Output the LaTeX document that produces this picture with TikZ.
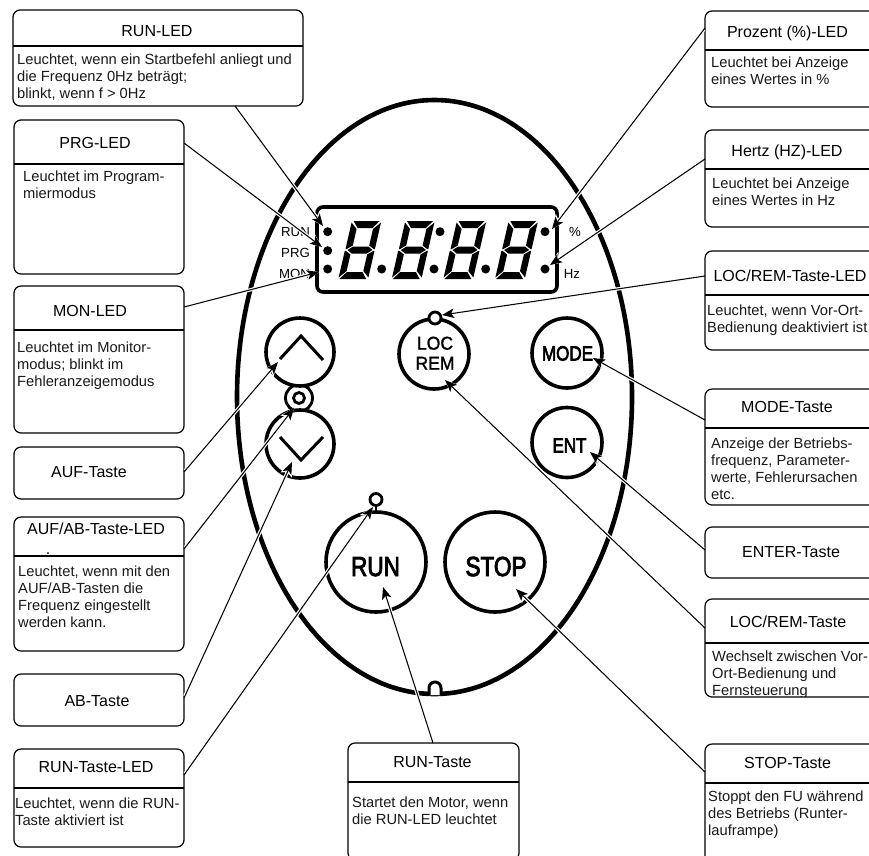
\documentclass[tikz,border=0pt]{standalone}
\usepackage{fontspec}
\setmainfont{Liberation Sans}
\newfontfamily\keyfont[FakeBold=3.5]{Liberation Sans}
\newfontfamily\locfont[FakeBold=1.5]{Liberation Sans}
\usetikzlibrary{arrows.meta}
\tikzset{
  boxs/.style={draw=black,line width=1.2pt,rounded corners=7pt,inner sep=0pt,outer sep=0pt,fill=white},
  divider/.style={draw=black,line width=1.2pt},
  titletext/.style={font=\fontsize{16}{18}\selectfont,anchor=base,inner sep=0pt},
  bodytext/.style={font=\fontsize{14.7}{17}\selectfont,anchor=north west,inner sep=0pt,align=left,text=black!90},
  key/.style={circle,draw=black,line width=3.6pt,fill=white,inner sep=0pt,outer sep=0pt},
  keytext/.style={font=\keyfont\fontsize{20.5}{22}\selectfont,anchor=base,inner sep=0pt},
  loctext/.style={font=\locfont\fontsize{18.5}{20}\selectfont,anchor=base,inner sep=0pt},
  bigkeytext/.style={font=\keyfont\fontsize{27.5}{30}\selectfont,anchor=base,inner sep=0pt},
  ledlabel/.style={font=\fontsize{13.2}{15}\selectfont,anchor=base east,inner sep=0pt},
  ledlabelw/.style={font=\fontsize{13.2}{15}\selectfont,anchor=base,inner sep=0pt},
  ring/.style={circle,draw=black,line width=2.8pt,fill=white,inner sep=0pt,outer sep=0pt},
  dot/.style={circle,fill=black,inner sep=0pt,minimum size=9pt},
  conn/.style={line width=1.05pt,-{Stealth[length=12pt,width=9.5pt,inset=2.8pt]},
    preaction={draw=white,line width=3.4pt,shorten <=2pt,-{Stealth[length=14pt,width=12pt,inset=3pt]}}},
  chev/.style={line width=3pt,draw=black}
}
% name, x1, y1, x2, y2
\newcommand{\cbox}[5]{%
  \pgfmathsetmacro{\bw}{#4-#2}\pgfmathsetmacro{\bh}{#5-#3}%
  \pgfmathsetmacro{\bcx}{(#2+#4)/2}\pgfmathsetmacro{\bcy}{(#3+#5)/2}%
  \node[boxs,minimum width=\bw pt,minimum height=\bh pt] (#1) at (\bcx,\bcy) {};}
\newcommand{\segdigit}[2]{%
  \begin{scope}[shift={(#1,#2)},xslant=0.23]
    \fill (2,-58) -- (28,-58) -- (22.5,-51) -- (7.5,-51) -- cycle;
    \fill (1,0) -- (28,0) -- (22.5,-7) -- (7,-7) -- cycle;
    \fill (2.5,-29) -- (7.5,-32.5) -- (22.5,-32.5) -- (27.5,-29) -- (22.5,-25.5) -- (7.5,-25.5) -- cycle;
    \fill (0.3,-56.5) -- (6.8,-50) -- (6.8,-33.5) -- (1.2,-29.8) -- (0.3,-30) -- cycle;
    \fill (0,-1.5) -- (6.5,-8) -- (6.5,-24.5) -- (1,-28.2) -- (0,-28) -- cycle;
    \fill (29.7,-56.5) -- (23.2,-50) -- (23.2,-33.5) -- (28.8,-29.8) -- (29.7,-30) -- cycle;
    \fill (29.7,-1.5) -- (23.2,-8) -- (23.2,-24.5) -- (28.8,-28.2) -- (29.7,-28) -- cycle;
  \end{scope}}
\begin{document}
\begin{tikzpicture}[x=1pt,y=-1pt]
\useasboundingbox (0,0) rectangle (869,855);
\clip (0,0) rectangle (869,855);
\fill[white] (0,0) rectangle (869,855);

% housing
\draw[line width=4.6pt] (434.5,397) ellipse [x radius=197.5,y radius=297];
\draw[line width=3pt,fill=white] (429,695) -- (429,688) arc[start angle=180,end angle=360,radius=6] -- (441,695);

% display
\node[draw=black,line width=3.6pt,rounded corners=6pt,minimum width=240pt,minimum height=85pt,inner sep=0pt,outer sep=0pt] (display) at (437,249.5) {};
\segdigit{338.3}{279}
\segdigit{391.7}{279}
\segdigit{443.3}{279}
\segdigit{495}{279}
\node[dot] (ledrun) at (327.7,231.7) {};
\node[dot] (ledprg) at (327.7,250.7) {};
\node[dot] (ledmon) at (327.7,269) {};
\node[dot] (ledpct) at (545,231.7) {};
\node[dot] (ledhz) at (545,269) {};
\node[dot] (dp1) at (381.7,269) {};
\node[dot] (dp2) at (434,269) {};
\node[dot] (dp3) at (485.7,269) {};
\node[dot] (colon) at (440,231.7) {};
\node[ledlabel] (lrun) at (310,236) {RUN};
\node[ledlabel] (lprg) at (310,257) {PRG};
\node[ledlabel] (lmon) at (310,278) {MON};
\node[ledlabelw] (lpct) at (575,236) {\%};
\node[ledlabelw] (lhz) at (572,278) {Hz};

% keys
\node[ring,minimum size=27pt] (updownled) at (299,398) {};
\node[key,minimum size=68pt] (up) at (300,352) {};
\node[key,minimum size=68pt] (down) at (300,444) {};
\draw[chev] (280,359) -- (301,336) -- (323,360);
\draw[chev] (280,437) -- (301,460) -- (323,437);
\node[ring,minimum size=11pt] (updowndot) at (299,398) {};

\node[key,minimum size=70pt] (loc) at (434,354) {};
\node[ring,minimum size=12pt] (locled) at (435,318) {};
\node[loctext] (loct) at (435,349.6) {\scalebox{0.95}[1]{LOC}};
\node[loctext] (remt) at (435,369.6) {\scalebox{0.95}[1]{REM}};
\node[key,minimum size=70pt] (mode) at (567,353) {};
\node[keytext] (modet) at (567.5,360.5) {\scalebox{0.83}[1]{MODE}};
\node[key,minimum size=70pt] (ent) at (567,442.5) {};
\node[keytext] (entt) at (569.5,452.5) {\scalebox{0.83}[1]{ENT}};
\node[key,minimum size=100pt] (runkey) at (376,562) {};
\node[key,minimum size=100pt] (stopkey) at (495,562) {};
\draw[line width=2.8pt] (376,505) -- (376,511);
\node[ring,minimum size=12pt] (runled2) at (376,499.5) {};
\node[bigkeytext] (runt) at (375.5,576) {\scalebox{0.82}[1]{RUN}};
\node[bigkeytext] (stopt) at (496,576) {\scalebox{0.82}[1]{STOP}};

% left boxes
\cbox{brunled}{13}{10}{303}{106}
\draw[divider] (brunled.west |- 0,46) -- (brunled.east |- 0,46);
\node[titletext] (trunled) at (157,36.7) {RUN-LED};
\node[bodytext] (drunled) at (17,54) {Leuchtet, wenn ein Startbefehl anliegt und\\die Frequenz 0Hz beträgt;\\blinkt, wenn f > 0Hz};

\cbox{bprg}{14}{120}{184}{274}
\draw[divider] (bprg.west |- 0,164) -- (bprg.east |- 0,164);
\node[titletext] (tprg) at (95,148.7) {PRG-LED};
\node[bodytext] (dprg) at (23,171) {Leuchtet im Program-\\miermodus};

\cbox{bmon}{14}{286}{184}{433}
\draw[divider] (bmon.west |- 0,330) -- (bmon.east |- 0,330);
\node[titletext] (tmon) at (90,316.7) {MON-LED};
\node[bodytext] (dmon) at (17,342) {Leuchtet im Monitor-\\modus; blinkt im\\Fehleranzeigemodus};

\cbox{bauf}{14}{447}{184}{499}
\node[titletext] (tauf) at (89,477.7) {AUF-Taste};

\cbox{bled}{14}{517}{184}{651}
\draw[divider] (bled.west |- 0,556) -- (bled.east |- 0,556);
\node[titletext] (tled) at (96,534.7) {AUF/AB-Taste-LED};
\node[titletext] (tleddot) at (48,554) {.};
\node[bodytext] (dled) at (18,566) {Leuchtet, wenn mit den\\AUF/AB-Tasten die\\Frequenz eingestellt\\werden kann.};

\cbox{bab}{14}{674}{184}{726}
\node[titletext] (tab) at (97,706.7) {AB-Taste};

\cbox{brunt}{14}{749}{184}{847}
\draw[divider] (brunt.west |- 0,788) -- (brunt.east |- 0,788);
\node[titletext] (trunt) at (96,772.7) {RUN-Taste-LED};
\node[bodytext] (drunt) at (15,798) {Leuchtet, wenn die RUN-\\Taste aktiviert ist};

% bottom centre box
\cbox{bstart}{348}{743}{519}{860}
\draw[divider] (bstart.west |- 0,782) -- (bstart.east |- 0,782);
\node[titletext] (tstart) at (432.5,767.7) {RUN-Taste};
\node[bodytext] (dstart) at (352,797) {Startet den Motor, wenn\\die RUN-LED leuchtet};

% right boxes
\cbox{bpct}{705}{11}{890}{107}
\draw[divider] (bpct.west |- 0,50) -- (bpct.east |- 0,50);
\node[titletext] (tpct) at (787.5,37.7) {Prozent (\%)-LED};
\node[bodytext] (dpct) at (711,57) {Leuchtet bei Anzeige\\eines Wertes in \%};

\cbox{bhz}{705}{130}{890}{227}
\draw[divider] (bhz.west |- 0,169) -- (bhz.east |- 0,169);
\node[titletext] (thz) at (787,156.7) {Hertz (HZ)-LED};
\node[bodytext] (dhz) at (712,178) {Leuchtet bei Anzeige\\eines Wertes in Hz};

\cbox{bll}{705}{251}{890}{350}
\draw[divider] (bll.west |- 0,295) -- (bll.east |- 0,295);
\node[titletext] (tll) at (790,281.7) {LOC/REM-Taste-LED};
\node[bodytext] (dll) at (707,305) {Leuchtet, wenn Vor-Ort-\\Bedienung deaktiviert ist};

\cbox{bmode}{705}{389}{890}{505}
\draw[divider] (bmode.west |- 0,428) -- (bmode.east |- 0,428);
\node[titletext] (tmode) at (787,412.7) {MODE-Taste};
\node[bodytext] (dmode) at (711,438) {Anzeige der Betriebs-\\frequenz, Parameter-\\werte, Fehlerursachen\\etc.};

\cbox{benter}{705}{527}{890}{578}
\node[titletext] (tenter) at (791,557.7) {ENTER-Taste};

\cbox{blr}{705}{599}{890}{697}
\draw[divider] (blr.west |- 0,643) -- (blr.east |- 0,643);
\node[titletext] (tlr) at (788,627.7) {LOC/REM-Taste};
\begin{scope}
  \clip (706,644) rectangle (869,696);
  \node[bodytext] (dlr) at (712,651) {Wechselt zwischen Vor-\\Ort-Bedienung und\\Fernsteuerung};
\end{scope}

\cbox{bstop}{705}{744}{890}{864}
\draw[divider] (bstop.west |- 0,783) -- (bstop.east |- 0,783);
\node[titletext] (tstop) at (787.5,768.7) {STOP-Taste};
\node[bodytext] (dstop) at (708,791) {Stoppt den FU während\\des Betriebs (Runter-\\lauframpe)};

% arrow targets
\coordinate (tiprun) at (323,226);
\coordinate (tipprg) at (322,247);
\coordinate (tipmon) at (319,272);
\coordinate (tipup) at (278,362);
\coordinate (tipled) at (294,408);
\coordinate (tipdown) at (292,462);
\coordinate (tiprl) at (373,507);
\coordinate (tipstart) at (383,587);
\coordinate (tippct) at (552,229);
\coordinate (tiphz) at (550,265);
\coordinate (tipll) at (442,315);
\coordinate (tipmode) at (593,358);
\coordinate (tipent) at (590,452);
\coordinate (tiplr) at (445,380);
\coordinate (tipstop) at (516,589);

% connectors
\draw[conn] (brunled.south -| 235,0) -- (tiprun);
\draw[conn] (bprg.east |- 0,143) -- (tipprg);
\draw[conn] (bmon.east |- 0,307) -- (tipmon);
\draw[conn] (bauf.east |- 0,472) -- (tipup);
\draw[conn] (bled.east |- 0,549) -- (tipled);
\draw[conn] (bab.east |- 0,698) -- (tipdown);
\draw[conn] (brunt.east |- 0,775) -- (tiprl);
\draw[conn] (bstart.north -| 433,0) -- (tipstart);
\draw[conn] (bpct.west |- 0,28) -- (tippct);
\draw[conn] (bhz.west |- 0,159) -- (tiphz);
\draw[conn] (bll.west |- 0,276) -- (tipll);
\draw[conn] (bmode.west |- 0,420) -- (tipmode);
\draw[conn] (benter.west |- 0,550) -- (tipent);
\draw[conn] (blr.west |- 0,628) -- (tiplr);
\draw[conn] (bstop.west |- 0,772) -- (tipstop);
\end{tikzpicture}
\end{document}
